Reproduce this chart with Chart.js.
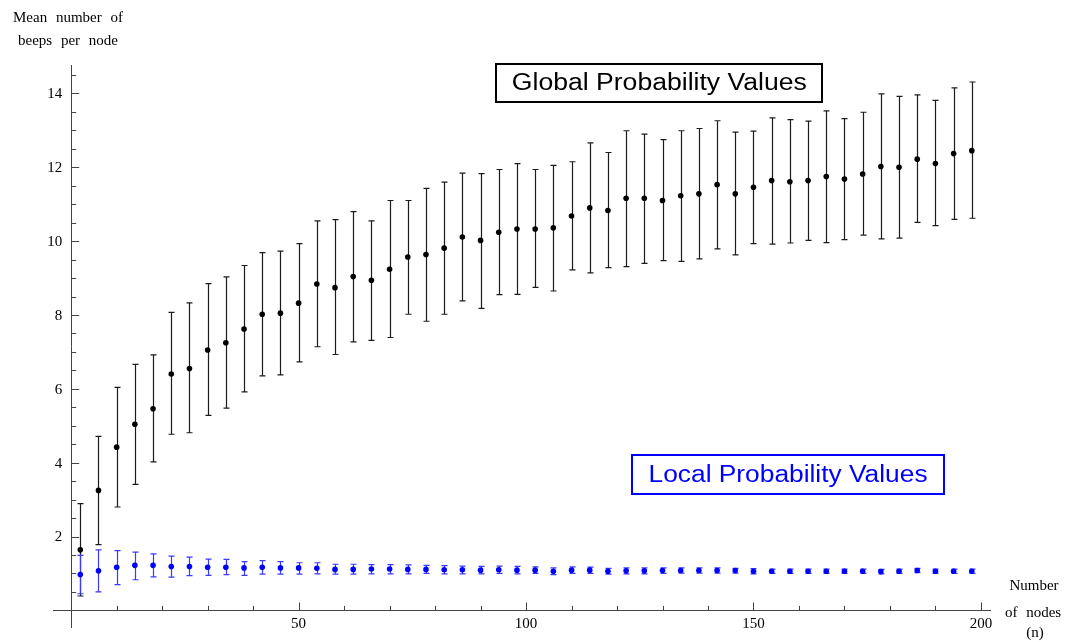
<!DOCTYPE html>
<html>
<head>
<meta charset="utf-8">
<script src="https://cdn.jsdelivr.net/npm/chart.js@4.4.1/dist/chart.umd.min.js"></script>
<style>
  html, body { margin: 0; padding: 0; background: #fff; }
  #wrap { width: 1065px; height: 642px; position: relative; }
</style>
</head>
<body>
<div id="wrap"><canvas id="chart"></canvas></div>
<script>
// number of nodes (n)
const nodes = [2, 6, 10, 14, 18, 22, 26, 30, 34, 38, 42, 46, 50, 54, 58, 62, 66, 70, 74, 78,
  82, 86, 90, 94, 98, 102, 106, 110, 114, 118, 122, 126, 130, 134, 138, 142, 146, 150, 154, 158,
  162, 166, 170, 174, 178, 182, 186, 190, 194, 198];

// global probability values: mean and error bar ends
const globalMean = [1.64, 3.25, 4.42, 5.04, 5.46, 6.40, 6.55, 7.05, 7.25, 7.62, 8.02, 8.05, 8.32, 8.84, 8.74, 9.04, 8.94, 9.24, 9.57, 9.64,
  9.81, 10.11, 10.02, 10.24, 10.33, 10.33, 10.36, 10.68, 10.90, 10.83, 11.16, 11.16, 11.10, 11.23, 11.28, 11.53, 11.28, 11.46, 11.64, 11.61,
  11.64, 11.75, 11.68, 11.82, 12.02, 12.00, 12.22, 12.10, 12.37, 12.45];
const globalLow = [0.39, 1.78, 2.80, 3.41, 4.02, 4.77, 4.81, 5.28, 5.48, 5.92, 6.35, 6.38, 6.73, 7.14, 6.93, 7.27, 7.31, 7.39, 8.02, 7.83,
  8.02, 8.38, 8.18, 8.55, 8.56, 8.75, 8.65, 9.22, 9.14, 9.28, 9.31, 9.40, 9.47, 9.45, 9.52, 9.79, 9.63, 9.93, 9.92, 9.95,
  10.02, 9.96, 10.04, 10.16, 10.06, 10.08, 10.51, 10.42, 10.59, 10.62];
const globalHigh = [2.89, 4.71, 6.04, 6.66, 6.92, 8.07, 8.33, 8.85, 9.03, 9.34, 9.69, 9.73, 9.93, 10.55, 10.58, 10.80, 10.55, 11.10, 11.10, 11.43,
  11.60, 11.84, 11.83, 11.94, 12.10, 11.94, 12.05, 12.15, 12.66, 12.40, 12.99, 12.90, 12.75, 12.99, 13.05, 13.26, 12.95, 12.98, 13.34, 13.29,
  13.25, 13.53, 13.32, 13.49, 13.99, 13.92, 13.96, 13.81, 14.15, 14.31];

// local probability values: mean and error bar ends
const localMean = [0.97, 1.07, 1.17, 1.22, 1.22, 1.19, 1.19, 1.17, 1.17, 1.15, 1.17, 1.15, 1.15, 1.14, 1.11, 1.11, 1.12, 1.12, 1.11, 1.11,
  1.10, 1.10, 1.09, 1.10, 1.09, 1.09, 1.06, 1.09, 1.09, 1.06, 1.07, 1.07, 1.08, 1.08, 1.08, 1.08, 1.08, 1.06, 1.06, 1.06,
  1.06, 1.06, 1.06, 1.06, 1.05, 1.06, 1.08, 1.06, 1.06, 1.06];
const localLow = [0.45, 0.50, 0.70, 0.83, 0.91, 0.90, 0.94, 0.95, 0.97, 0.95, 0.98, 0.98, 0.98, 0.99, 0.98, 0.98, 0.99, 0.99, 0.99, 1.00,
  0.99, 0.99, 0.99, 1.00, 0.99, 1.00, 0.97, 1.00, 1.00, 0.98, 0.99, 0.99, 1.00, 1.01, 1.01, 1.01, 1.01, 0.99, 1.00, 1.00,
  1.00, 1.00, 1.00, 1.00, 0.99, 1.00, 1.02, 1.00, 1.00, 1.00];
const localHigh = [1.49, 1.64, 1.62, 1.58, 1.53, 1.47, 1.44, 1.39, 1.38, 1.32, 1.35, 1.32, 1.29, 1.29, 1.25, 1.25, 1.24, 1.24, 1.23, 1.22,
  1.21, 1.20, 1.19, 1.20, 1.19, 1.18, 1.15, 1.18, 1.17, 1.14, 1.15, 1.15, 1.15, 1.15, 1.15, 1.15, 1.14, 1.13, 1.12, 1.12,
  1.12, 1.12, 1.12, 1.12, 1.11, 1.12, 1.14, 1.12, 1.12, 1.12];

// tick positions and labelled ticks
const xTicks = [10, 20, 30, 40, 50, 60, 70, 80, 90, 100, 110, 120, 130, 140, 150, 160, 170, 180, 190, 200];
const xLabels = [50, 100, 150, 200];
const yTicks = [0.5, 1, 1.5, 2, 2.5, 3, 3.5, 4, 4.5, 5, 5.5, 6, 6.5, 7, 7.5, 8, 8.5, 9, 9.5, 10,
  10.5, 11, 11.5, 12, 12.5, 13, 13.5, 14, 14.5];
const yLabels = [2, 4, 6, 8, 10, 12, 14];

// text boxes placed in data coordinates
const labelBoxes = [
  { text: 'Global Probability Values', x: 129.3, y: 14.28, w: 326, h: 38, textW: 295, color: '#000000' },
  { text: 'Local Probability Values', x: 157.6, y: 3.68, w: 312, h: 39, textW: 279, color: '#0000ff' }
];

const serif = '"Liberation Serif", "DejaVu Serif", serif';
const sans = '"Liberation Sans", Arial, sans-serif';

function points(ys) {
  return nodes.map((n, i) => ({ x: n, y: ys[i] }));
}

function drawBars(ctx, xs, ys, low, high, color) {
  ctx.save();
  ctx.strokeStyle = color;
  ctx.lineWidth = 1.2;
  for (let i = 0; i < nodes.length; i++) {
    let px = Math.round(xs.getPixelForValue(nodes[i])) + 0.5;
    let top = ys.getPixelForValue(high[i]);
    let bot = ys.getPixelForValue(low[i]);
    ctx.beginPath();
    ctx.moveTo(px, top); ctx.lineTo(px, bot);
    ctx.moveTo(px - 3, top); ctx.lineTo(px + 3, top);
    ctx.moveTo(px - 3, bot); ctx.lineTo(px + 3, bot);
    ctx.stroke();
  }
  ctx.restore();
}

const decor = {
  id: 'decor',
  beforeDatasetsDraw(chart) {
    const ctx = chart.ctx, xs = chart.scales.x, ys = chart.scales.y;
    drawBars(ctx, xs, ys, globalLow, globalHigh, '#1c1c1c');
    drawBars(ctx, xs, ys, localLow, localHigh, '#3a3aff');
  },
  afterDraw(chart) {
    const ctx = chart.ctx, xs = chart.scales.x, ys = chart.scales.y;
    let x0 = xs.getPixelForValue(0), y0 = ys.getPixelForValue(0);
    ctx.save();
    ctx.strokeStyle = '#444';
    ctx.lineWidth = 1;
    ctx.beginPath();
    // inward tick marks
    for (let t of xs.ticks) {
      let px = Math.round(xs.getPixelForValue(t.value)) + 0.5;
      ctx.moveTo(px, y0); ctx.lineTo(px, y0 - (xLabels.includes(t.value) ? 8 : 4.5));
    }
    for (let t of ys.ticks) {
      let py = Math.round(ys.getPixelForValue(t.value)) + 0.5;
      ctx.moveTo(x0, py); ctx.lineTo(x0 + (yLabels.includes(t.value) ? 8 : 5), py);
    }
    ctx.stroke();

    // y tick labels, set off from the axis line
    ctx.fillStyle = '#000';
    ctx.font = '15px ' + serif;
    ctx.textAlign = 'right';
    ctx.textBaseline = 'middle';
    for (let t of ys.ticks) {
      if (!yLabels.includes(t.value)) continue;
      ctx.fillText(String(t.value), x0 - 9, ys.getPixelForValue(t.value) + 1);
    }

    // axis titles
    ctx.textAlign = 'center';
    ctx.textBaseline = 'alphabetic';
    if ('wordSpacing' in ctx) ctx.wordSpacing = '5px';
    ctx.fillText('Mean number of', 68, 22);
    ctx.fillText('beeps per node', 68, 45);
    ctx.fillText('Number', 1034, 590);
    ctx.fillText('of nodes', 1033, 617);
    ctx.fillText('(n)', 1035, 637);
    if ('wordSpacing' in ctx) ctx.wordSpacing = '0px';

    // framed labels
    for (let b of labelBoxes) {
      let cx = xs.getPixelForValue(b.x), cy = ys.getPixelForValue(b.y);
      ctx.strokeStyle = b.color;
      ctx.lineWidth = 2;
      ctx.strokeRect(Math.round(cx - b.w / 2), Math.round(cy - b.h / 2), b.w, b.h);
      ctx.font = '23px ' + sans;
      ctx.fillStyle = b.color;
      ctx.textAlign = 'center';
      ctx.textBaseline = 'middle';
      let k = b.textW / ctx.measureText(b.text).width;
      ctx.save();
      ctx.translate(cx, cy + 1);
      ctx.scale(k, 1);
      ctx.fillText(b.text, 0, 0);
      ctx.restore();
    }
    ctx.restore();
  }
};

new Chart(document.getElementById('chart'), {
  type: 'scatter',
  data: {
    datasets: [
      { label: 'Global', data: points(globalMean), backgroundColor: '#000', borderWidth: 0, pointRadius: 2.8, pointHoverRadius: 2.8 },
      { label: 'Local', data: points(localMean), backgroundColor: '#0000ff', borderWidth: 0, pointRadius: 2.8, pointHoverRadius: 2.8 }
    ]
  },
  options: {
    responsive: true,
    maintainAspectRatio: false,
    animation: false,
    layout: { padding: { left: 53, right: 75, top: 65, bottom: 15 } },
    plugins: { legend: { display: false }, tooltip: { enabled: false } },
    scales: {
      x: {
        type: 'linear',
        position: { y: 0 },
        min: -4,
        max: 202,
        afterBuildTicks: (s) => { s.ticks = xTicks.map(v => ({ value: v })); },
        grid: { display: false, drawTicks: false },
        border: { display: true, color: '#444', width: 1 },
        ticks: {
          autoSkip: false,
          maxRotation: 0,
          padding: 5,
          color: '#000',
          font: { family: serif, size: 15 },
          callback: (v) => xLabels.includes(v) ? String(v) : ''
        }
      },
      y: {
        type: 'linear',
        position: { x: 0 },
        min: -0.45,
        max: 14.77,
        afterBuildTicks: (s) => { s.ticks = yTicks.map(v => ({ value: v })); },
        grid: { display: false, drawTicks: false },
        border: { display: true, color: '#444', width: 1 },
        ticks: {
          autoSkip: false,
          display: false
        }
      }
    }
  },
  plugins: [decor]
});
</script>
</body>
</html>
